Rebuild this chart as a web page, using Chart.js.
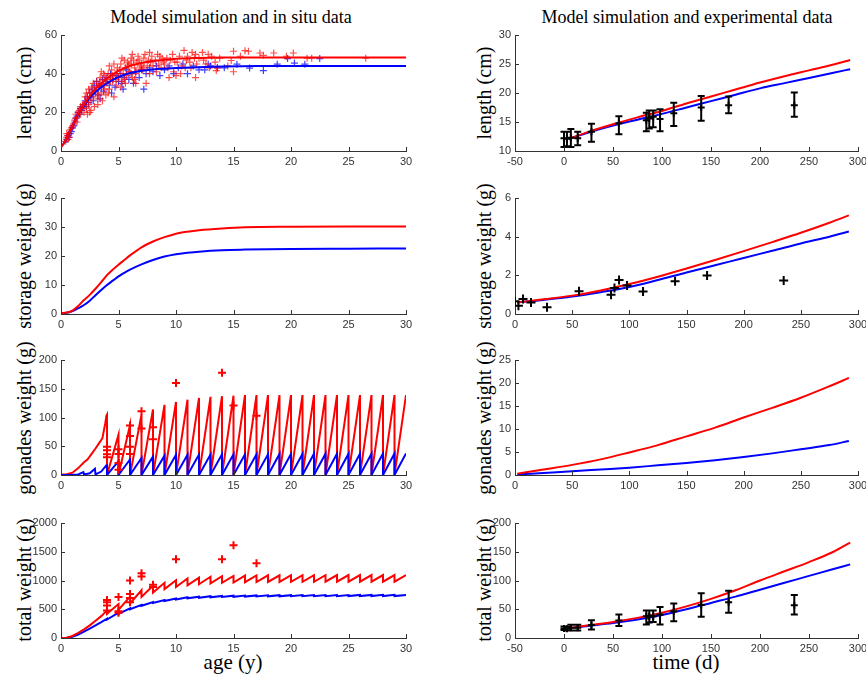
<!DOCTYPE html>
<html>
<head>
<meta charset="utf-8">
<script src="https://cdn.jsdelivr.net/npm/chart.js@4.4.0/dist/chart.umd.min.js"></script>
<style>
  body { margin: 0; background: #fff; width: 866px; height: 676px; position: relative; overflow: hidden; }
  canvas { position: absolute; }
  .t { position: absolute; white-space: nowrap; color: #000; font-family: "Liberation Serif", serif; transform: translate(-50%, -50%); }
  .yl { transform: translate(-50%, -50%) rotate(-90deg); }
</style>
</head>
<body>

<div class="t" style="left:231px;top:17px;font-size:18px">Model simulation and in situ data</div>
<div class="t" style="left:687px;top:17px;font-size:18px">Model simulation and experimental data</div>

<div class="t yl" style="left:24px;top:93px;font-size:20px">length (cm)</div>
<div class="t yl" style="left:24px;top:256px;font-size:20px">storage weight (g)</div>
<div class="t yl" style="left:24px;top:418px;font-size:20px">gonades weight (g)</div>
<div class="t yl" style="left:24px;top:580px;font-size:20px">total weight (g)</div>

<div class="t yl" style="left:484px;top:93px;font-size:20px">length (cm)</div>
<div class="t yl" style="left:484px;top:256px;font-size:20px">storage weight (g)</div>
<div class="t yl" style="left:484px;top:418px;font-size:20px">gonades weight (g)</div>
<div class="t yl" style="left:484px;top:580px;font-size:20px">total weight (g)</div>

<div class="t" style="left:233px;top:662px;font-size:21px">age (y)</div>
<div class="t" style="left:686px;top:662px;font-size:21px">time (d)</div>

<script>
// ---- in situ data (age in years) ----
const lenAge = [0,0.25,0.5,0.75,1,1.5,2,2.5,3,3.5,4,4.5,5,6,7,8,9,10,12,14,17,20,25,30];
const lenRedSim = [2,4,7,10,13,19,24,28.5,32,35,37.5,39.5,41.5,44,45.5,46.5,47.2,47.7,48.1,48.3,48.4,48.4,48.4,48.4];
const lenBlueSim = [2,4,7,10,13,19,23.5,27.5,30.5,33,35,36.8,38.2,40.3,41.5,42.2,42.6,42.9,43.3,43.7,44,44,44,44];

const lenObsRed = [
  [0.4,5],[0.5,7],[0.6,8],[0.6,6],[0.7,9],[0.8,11],[0.9,12],[0.5,9],[0.7,7],
  [1.0,13],[1.1,14],[1.2,16],[1.3,17],[1.4,15],[1.5,20],[1.6,21],[1.7,19],[1.8,22],[1.9,24],[1.3,19],[1.7,23],
  [2.0,20],[2.1,25],[2.2,22],[2.3,27],[2.4,24],[2.5,30],[2.5,20],[2.6,26],[2.7,33],[2.8,28],[2.9,23],[2.2,30],
  [2.4,32],[2.6,21],[2.8,35],[2.3,19],[2.9,31],[2.1,28],
  [3.0,30],[3.1,36],[3.2,27],[3.3,33],[3.4,38],[3.5,30],[3.6,35],[3.7,40],[3.8,32],[3.9,37],[3.2,24],[3.5,41],
  [3.6,26],[3.9,29],[3.1,33],[3.4,35],[3.8,39],[3.3,29],[3.7,34],
  [4.0,35],[4.1,40],[4.2,32],[4.3,38],[4.4,42],[4.5,36],[4.6,28],[4.7,40],[4.8,34],[4.9,43],[4.2,44],[4.5,39],
  [4.8,37],[4.1,30],[4.6,45],[4.3,36],[4.9,40],
  [5.0,38],[5.1,42],[5.2,45],[5.3,36],[5.4,40],[5.5,47],[5.6,43],[5.7,39],[5.8,46],[5.9,41],[5.2,33],[5.5,37],
  [5.8,44],[5.3,48],[5.6,35],[5.9,45],
  [6.0,41],[6.1,45],[6.2,38],[6.3,47],[6.4,43],[6.5,40],[6.6,46],[6.7,49],[6.8,42],[6.9,44],[6.2,50],[6.5,35],
  [6.8,47],[6.4,37],[6.1,48],
  [7.0,45],[7.1,42],[7.2,48],[7.3,50],[7.5,44],[7.6,47],[7.7,40],[7.8,46],[7.9,49],[7.4,35],[7.2,43],[7.7,51],
  [8.0,44],[8.2,47],[8.4,50],[8.5,45],[8.7,43],[8.8,48],[8.3,41],[8.9,46],[8.6,49],
  [9.0,45],[9.2,48],[9.3,43],[9.5,47],[9.7,50],[9.8,41],[9.4,38],[9.9,46],[10.0,39],
  [10.1,46],[10.3,49],[10.5,44],[10.7,52],[10.9,47],[10.4,40],[10.8,43],
  [11.0,49],[11.2,46],[11.4,51],[11.6,48],[11.8,45],[11.3,43],[11.7,50],[11.7,38],
  [12.0,48],[12.3,51],[12.6,45],[12.8,50],[12.4,47],[12.9,43],
  [13.1,49],[13.4,46],[13.6,43],[13.8,48],[13.5,41.6],
  [14.5,44],[14.8,46.8],[15.0,51.6],[15.0,41],[15.6,49],[16.0,51.9],[16.3,51.6],[17.3,50.7],[17.6,49.5],
  [18.5,50.7],[19.6,49],[20.2,50.7],[21.4,48],[21.8,48],[26.5,48]
];
const lenObsBlue = [
  [0.5,6],[0.6,8],[0.7,7],[0.8,9],[0.9,10],[1.0,12],[1.1,13],[1.2,15],[1.3,17],[1.4,18],[1.5,20],[1.6,19],
  [1.7,22],[1.8,21],[1.9,23],[2.0,24],[2.1,26],[2.2,23],[2.3,28],[2.4,25],[2.5,30],[2.6,28],[2.7,32],[2.8,26],
  [2.9,34],[3.0,31],[3.1,36],[3.2,29],[3.3,34],[3.4,27],[3.5,33],[3.6,37],[3.7,31],[3.9,36],[4.0,38],[4.2,34],
  [4.3,40],[4.4,30],[4.5,37],[4.7,33],[4.8,39],[5.0,36],[5.2,40],[5.3,35],[5.4,32],[5.5,38],[5.7,42],[5.9,37],
  [6.1,40],[6.3,35],[6.5,41],[6.8,38],[7.0,42],[7.2,32],[7.4,40],[7.7,43],[8.0,41],[8.3,44],[8.6,39],[9.0,42],
  [9.4,44],[9.8,40],[10.2,43],[10.6,45],[11.0,40],[11.5,44],[12.0,42],[12.5,42],[12.8,45],[13.0,44],[13.6,43],
  [14.2,43],[15.3,44.9],[16.4,42.9],[17.6,41.6],[18.8,44.9],[19.7,47.8],[20.3,45.5],[21.2,44.9],[22.5,47.8]
];

const stoAge = [0,0.5,1,1.5,2,2.5,3,3.5,4,4.5,5,5.5,6,7,8,9,10,11,12,14,16,20,25,30];
const stoRedSim = [0.3,0.5,1.2,2.8,4.8,6.6,8.7,11,13.4,15.3,17,18.6,20.2,23,25,26.5,27.7,28.4,28.9,29.5,29.9,30.1,30.2,30.2];
const stoBlueSim = [0.3,0.4,1,2,3.1,4.6,6.5,8.3,10,11.5,13,14.2,15.3,17.1,18.6,19.8,20.6,21.1,21.5,22,22.2,22.4,22.5,22.6];

// spawning years: one tooth per year from 5 to 30
const spawnYears = [5,6,7,8,9,10,11,12,13,14,15,16,17,18,19,20,21,22,23,24,25,26,27,28,29,30];

const gonRedHeadAge = [0,0.5,1,1.5,2,2.3,2.6,3,3.3,3.6,3.85,3.95,4];
const gonRedHead = [1,1.5,4,12,22,27,35,46,55,64,90,103,105];
const gonRedPeak = [70,87,105,114,122,127,131,134,136,137,138,139,139,139,139,139,139,139,139,139,139,139,139,139,139,139];
const gonBlueHeadAge = [0,1,1.5,1.95,2,2.5,2.95,3,3.5,3.95,4];
const gonBlueHead = [0,0.5,1,5,1,3,11,1,6,17,17];
const gonBluePeak = [24,27,29.5,32,33.6,35,35,35.5,35.5,36,36,36,36,36,36.5,36.5,36.5,37,37,37,37,37,37,37.5,37.5,37.5];
const gonObs = [[4,49],[4,43],[4,36],[4,31],[5,45],[5,36.5],[5,21],[5,9],[6,86],[6,68],[6,49],[6,36.5],
  [7,111],[7,81],[8,83],[8,62],[10,160],[14,178],[15,121],[17,103]];

const totRedHeadAge = [0,0.5,1,1.5,2,2.5,3,3.5,4];
const totRedHead = [0,5,35,90,150,220,300,380,480];
const totRedLow = [420,490,600,715,790,850,885,915,935,950,960,965,970,972,975,975,977,978,978,980,980,980,980,980,980,980];
const totRedPeak = [590,720,830,910,960,1005,1035,1050,1065,1075,1080,1085,1088,1090,1090,1092,1092,1093,1093,1095,1095,1095,1095,1095,1095,1095];
const totBlueHeadAge = [0,0.5,1,1.5,2,2.5,3,3.5,4];
const totBlueHead = [0,3,20,60,110,165,220,275,335];
const totBlueLow = [320,420,500,560,610,645,670,690,700,708,713,717,720,722,724,725,726,727,727,728,728,729,729,730,730,730];
const totBluePeak = [440,515,575,625,660,688,708,718,726,731,735,738,740,742,744,745,746,747,747,748,748,749,749,750,750,750];
const totObs = [[4,660],[4,620],[4,565],[4,480],[5,713],[5,466],[5,437],[6,1000],[6,765],[6,696],[6,621],
  [7,1127],[7,1070],[8,925],[8,885],[10,1368],[14,1368],[15,1615],[17,1300]];

// ---- experimental data (time in days) ----
const expDay = [0,3,7,14,28,56,84,87,91,98,112,140,168,235];
const lenExp = [12.2,12.1,12.3,12.2,13.3,14.8,15.3,15.6,15.9,15.5,16.5,17.5,17.9,17.9];
const lenExpLo = [10.7,10.8,10.7,11,11.6,12.9,13.4,13.9,14.1,13.4,14.3,15.2,16.5,15.9];
const lenExpHi = [13.3,13.3,13.8,13.3,14.7,16.0,16.6,17,17,17.2,18.3,19.5,19.4,20.1];
const stoExp = [0.66,0.43,0.78,0.6,0.35,1.18,1.0,1.35,1.76,1.47,1.16,1.7,1.99,1.73];
const totExp = [16.7,16,18,18,22.4,30.5,38,38,38,40.8,46.5,57.5,62,57];
const totExpLo = [14,13,13,13,15,20.7,23.6,27,28,23.6,29.3,36.8,43.7,40.8];
const totExpHi = [20,19,23,23,31,40.8,48,48,48,54,59.8,78,82,75];

const simDay = [5,25,50,75,100,125,150,175,200,225,250,275,292];
const lenSimRedD = [12.1,13.3,14.6,15.8,16.9,18.2,19.4,20.6,21.8,22.9,23.9,24.9,25.7];
const lenSimBlueD = [12.1,13.2,14.4,15.4,16.4,17.5,18.6,19.7,20.8,21.7,22.6,23.5,24.1];
const stoSimDay = [2,25,50,75,100,125,150,175,200,225,250,275,292];
const stoSimRedD = [0.6,0.76,0.95,1.22,1.55,1.93,2.35,2.79,3.25,3.72,4.2,4.72,5.1];
const stoSimBlueD = [0.6,0.73,0.9,1.13,1.4,1.76,2.15,2.52,2.9,3.27,3.65,4.0,4.27];
const gonSimRedD = [0.3,1.2,2.2,3.4,4.9,6.5,8.4,10.3,12.5,14.6,16.8,19.3,21.1];
const gonSimBlueD = [0.1,0.45,0.8,1.2,1.6,2.1,2.6,3.2,3.9,4.7,5.6,6.5,7.4];
const totSimRedD = [17,22,28,35,44,55,68,83,100,116,132,150,166];
const totSimBlueD = [17,21,26,32,40,50,61,72,84,96,108,120,128];

// ---- helpers ----
function pts(xs, ys) {
  return xs.map(function (x, i) { return { x: x, y: ys[i] }; });
}
function pairs(arr) {
  return arr.map(function (p) { return { x: p[0], y: p[1] }; });
}
// head curve, then one tooth per spawning year: drop at year-1, climb to the peak at year
function teeth(headX, headY, years, lows, peaks) {
  var out = pts(headX, headY);
  for (var k = 0; k < years.length; k++) {
    out.push({ x: years[k] - 1, y: lows[k] });
    out.push({ x: years[k], y: peaks[k] });
  }
  return out;
}
var zeros = spawnYears.map(function () { return 0; });

function line(data, color) {
  return { data: data, showLine: true, borderColor: color, backgroundColor: color, borderWidth: 2, pointRadius: 0, tension: 0 };
}
function smooth(data, color) {
  var d = line(data, color);
  d.cubicInterpolationMode = 'monotone';
  return d;
}
function marks(data, color, r, w) {
  return { data: data, showLine: false, pointStyle: 'cross', pointRadius: r, borderColor: color, backgroundColor: color, borderWidth: w };
}

const RED = '#ff0000', BLUE = '#0000ff';
const ROW_TOP = [35, 198, 360, 523];
const ROW_BOT = [151, 314, 475, 638];

const inTicks = {
  id: 'inTicks',
  afterDraw: function (chart) {
    var ctx = chart.ctx, a = chart.chartArea, xs = chart.scales.x, ys = chart.scales.y;
    ctx.save();
    ctx.strokeStyle = '#333';
    ctx.lineWidth = 1;
    ctx.beginPath();
    xs.ticks.forEach(function (t) {
      var p = Math.round(xs.getPixelForValue(t.value)) + 0.5;
      ctx.moveTo(p, a.bottom); ctx.lineTo(p, a.bottom - 4);
    });
    ys.ticks.forEach(function (t) {
      var p = Math.round(ys.getPixelForValue(t.value)) + 0.5;
      ctx.moveTo(a.left, p); ctx.lineTo(a.left + 4, p);
    });
    ctx.stroke();
    ctx.restore();
  }
};

const errorBars = {
  id: 'errorBars',
  afterDatasetsDraw: function (chart) {
    var ctx = chart.ctx, xs = chart.scales.x, ys = chart.scales.y;
    chart.data.datasets.forEach(function (ds) {
      if (!ds.errLow) return;
      ctx.save();
      ctx.strokeStyle = ds.borderColor;
      ctx.lineWidth = 2;
      ctx.beginPath();
      ds.data.forEach(function (p, j) {
        var px = xs.getPixelForValue(p.x);
        var lo = ys.getPixelForValue(ds.errLow[j]), hi = ys.getPixelForValue(ds.errHigh[j]);
        ctx.moveTo(px, lo); ctx.lineTo(px, hi);
        ctx.moveTo(px - 3.5, lo); ctx.lineTo(px + 3.5, lo);
        ctx.moveTo(px - 3.5, hi); ctx.lineTo(px + 3.5, hi);
      });
      ctx.stroke();
      ctx.restore();
    });
  }
};

Chart.defaults.font.family = '"Liberation Sans", Arial, sans-serif';

function plain(v) { return String(v); }

function panel(col, row, xr, yr, datasets) {
  var cv = document.createElement('canvas');
  var left = col === 0 ? 0 : 432;
  var w = col === 0 ? 432 : 434;
  var h = ROW_BOT[row] - ROW_TOP[row] + 30;
  cv.width = w; cv.height = h;
  cv.style.left = left + 'px';
  cv.style.top = (ROW_TOP[row] - 8) + 'px';
  cv.style.width = w + 'px';
  cv.style.height = h + 'px';
  document.body.appendChild(cv);
  var tickFont = { size: 11 };
  new Chart(cv, {
    type: 'scatter',
    data: { datasets: datasets },
    options: {
      responsive: false,
      animation: false,
      devicePixelRatio: 1,
      layout: { padding: { top: 8, right: col === 0 ? 26 : 8, left: 0, bottom: 0 } },
      plugins: { legend: { display: false }, tooltip: { enabled: false } },
      scales: {
        x: {
          type: 'linear', min: xr[0], max: xr[1],
          ticks: { stepSize: xr[2], autoSkip: false, maxRotation: 0, color: '#333', font: tickFont, padding: 4, callback: plain },
          grid: { display: false, drawTicks: false },
          border: { color: '#333' },
          afterFit: function (s) { s.height = 22; s.paddingLeft = 0; s.paddingRight = 0; }
        },
        y: {
          type: 'linear', min: yr[0], max: yr[1],
          ticks: { stepSize: yr[2], autoSkip: false, color: '#333', font: tickFont, padding: 4, callback: plain },
          grid: { display: false, drawTicks: false },
          border: { color: '#333' },
          afterFit: function (s) { s.width = col === 0 ? 61 : 83; s.paddingTop = 0; s.paddingBottom = 0; }
        }
      }
    },
    plugins: [inTicks, errorBars]
  });
}

// left column: model vs in situ
panel(0, 0, [0, 30, 5], [0, 60, 20], [
  smooth(pts(lenAge, lenRedSim), RED),
  smooth(pts(lenAge, lenBlueSim), BLUE),
  marks(pairs(lenObsRed), 'rgba(255,0,0,0.7)', 3.5, 1.2),
  marks(pairs(lenObsBlue), 'rgba(0,0,255,0.75)', 3.5, 1.2)
]);
panel(0, 1, [0, 30, 5], [0, 40, 10], [
  smooth(pts(stoAge, stoRedSim), RED),
  smooth(pts(stoAge, stoBlueSim), BLUE)
]);
panel(0, 2, [0, 30, 5], [0, 200, 50], [
  marks(pairs(gonObs), RED, 4, 2),
  line(teeth(gonBlueHeadAge, gonBlueHead, spawnYears, zeros, gonBluePeak), BLUE),
  line(teeth(gonRedHeadAge, gonRedHead, spawnYears, zeros, gonRedPeak), RED)
]);
panel(0, 3, [0, 30, 5], [0, 2000, 500], [
  marks(pairs(totObs), RED, 4, 2),
  line(teeth(totRedHeadAge, totRedHead, spawnYears, totRedLow, totRedPeak), RED),
  line(teeth(totBlueHeadAge, totBlueHead, spawnYears, totBlueLow, totBluePeak), BLUE)
]);

// right column: model vs experiment
var lenErr = marks(pts(expDay, lenExp), '#000', 3.5, 2);
lenErr.errLow = lenExpLo; lenErr.errHigh = lenExpHi;
panel(1, 0, [-50, 300, 50], [10, 30, 5], [
  lenErr,
  smooth(pts(simDay, lenSimRedD), RED),
  smooth(pts(simDay, lenSimBlueD), BLUE)
]);
panel(1, 1, [0, 300, 50], [0, 6, 2], [
  marks(pts(expDay, stoExp), '#000', 4.5, 2),
  smooth(pts(stoSimDay, stoSimRedD), RED),
  smooth(pts(stoSimDay, stoSimBlueD), BLUE)
]);
panel(1, 2, [0, 300, 50], [0, 25, 5], [
  smooth(pts(stoSimDay, gonSimRedD), RED),
  smooth(pts(stoSimDay, gonSimBlueD), BLUE)
]);
var totErr = marks(pts(expDay, totExp), '#000', 3.5, 2);
totErr.errLow = totExpLo; totErr.errHigh = totExpHi;
panel(1, 3, [-50, 300, 50], [0, 200, 50], [
  totErr,
  smooth(pts(simDay, totSimRedD), RED),
  smooth(pts(simDay, totSimBlueD), BLUE)
]);
</script>
</body>
</html>
